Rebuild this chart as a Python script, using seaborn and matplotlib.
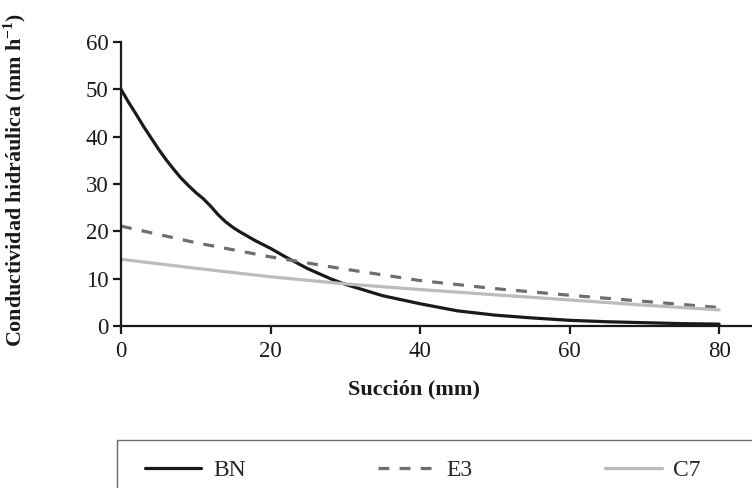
import matplotlib
matplotlib.use('Agg')
import matplotlib.pyplot as plt
from matplotlib.patches import Rectangle
import seaborn as sns
import pandas as pd

# suction (mm) and hydraulic conductivity (mm/h)
bn_x = [0, 1, 2, 3, 4, 5, 6, 7, 8, 9, 10, 11, 12, 13, 14, 15, 16, 17, 18, 19, 20,
        22, 25, 28, 30, 35, 40, 45, 50, 55, 60, 65, 70, 75, 80]
bn_y = [50, 47.3, 44.8, 42.2, 39.8, 37.4, 35.2, 33.2, 31.3, 29.7, 28.2, 26.9, 25.3,
        23.5, 22.0, 20.8, 19.8, 18.9, 18.0, 17.2, 16.4, 14.6, 12.1, 10.0, 8.8, 6.4,
        4.7, 3.2, 2.3, 1.7, 1.2, 0.9, 0.7, 0.5, 0.4]
e3_x = [0, 10, 20, 30, 40, 50, 60, 70, 80]
e3_y = [21.1, 17.6, 14.6, 12.0, 9.6, 7.9, 6.5, 5.2, 3.9]
c7_x = [0, 10, 20, 30, 40, 50, 60, 70, 80]
c7_y = [14.1, 12.2, 10.4, 8.9, 7.7, 6.6, 5.5, 4.4, 3.4]

series = ['BN', 'E3', 'C7']
colors = {'BN': '#1a1a1a', 'E3': '#6e6e6e', 'C7': '#bcbcbc'}
styles = {'BN': '-', 'E3': (0, (3.4, 3.2)), 'C7': '-'}

df = pd.concat([
    pd.DataFrame({'x': bn_x, 'y': bn_y, 'serie': 'BN'}),
    pd.DataFrame({'x': e3_x, 'y': e3_y, 'serie': 'E3'}),
    pd.DataFrame({'x': c7_x, 'y': c7_y, 'serie': 'C7'}),
])

sns.set_style('ticks')
plt.rcParams['font.family'] = ['Liberation Serif', 'DejaVu Serif']
plt.rcParams['mathtext.fontset'] = 'custom'
plt.rcParams['mathtext.rm'] = 'Liberation Serif'
plt.rcParams['mathtext.bf'] = 'Liberation Serif:bold'

fig = plt.figure(figsize=(7.52, 4.88), dpi=100)
ax = fig.add_axes([121 / 752, 1 - 326 / 488, 1 - 121 / 752, (326 - 42) / 488])

for s in series:
    sub = df[df['serie'] == s]
    sns.lineplot(data=sub, x='x', y='y', ax=ax, color=colors[s], lw=2.3,
                 linestyle=styles[s], label=s, legend=False)

ax.set_xlim(0, 84.4)
ax.set_ylim(0, 60)
ax.set_xticks([0, 20, 40, 60, 80])
ax.set_yticks(range(0, 61, 10))
ax.tick_params(axis='both', labelsize=16.5, length=6, width=1.6, colors='#1a1a1a',
               labelcolor='#1a1a1a')
ax.tick_params(axis='x', pad=5)
ax.tick_params(axis='y', pad=3)
sns.despine(ax=ax)
for sp in ['left', 'bottom']:
    ax.spines[sp].set_linewidth(1.6)
    ax.spines[sp].set_color('#1a1a1a')

ax.set_xlabel('Succión (mm)', fontsize=16, fontweight='bold', color='#1a1a1a')
ax.set_ylabel(r'Conductividad hidráulica (mm h$^{\mathbf{-1}}$)', fontsize=15.8,
              fontweight='bold', color='#1a1a1a')
ax.xaxis.set_label_coords(0.464, -0.187)
ax.yaxis.set_label_coords(-0.147, 0.514)

handles, labels = ax.get_legend_handles_labels()
leg = fig.legend(handles, labels, loc='center left', ncol=3, frameon=False,
                 bbox_to_anchor=(133 / 752, 1 - 470 / 488), borderpad=0,
                 handlelength=2.4, handletextpad=0.5, columnspacing=5.6,
                 fontsize=17)
fig.patches.append(Rectangle((117 / 752, -0.1), 1, 1 - 440 / 488 + 0.1,
                             transform=fig.transFigure, fill=False,
                             ec='#6a6a6a', lw=1.0))

fig.savefig('out.png', dpi=100)
